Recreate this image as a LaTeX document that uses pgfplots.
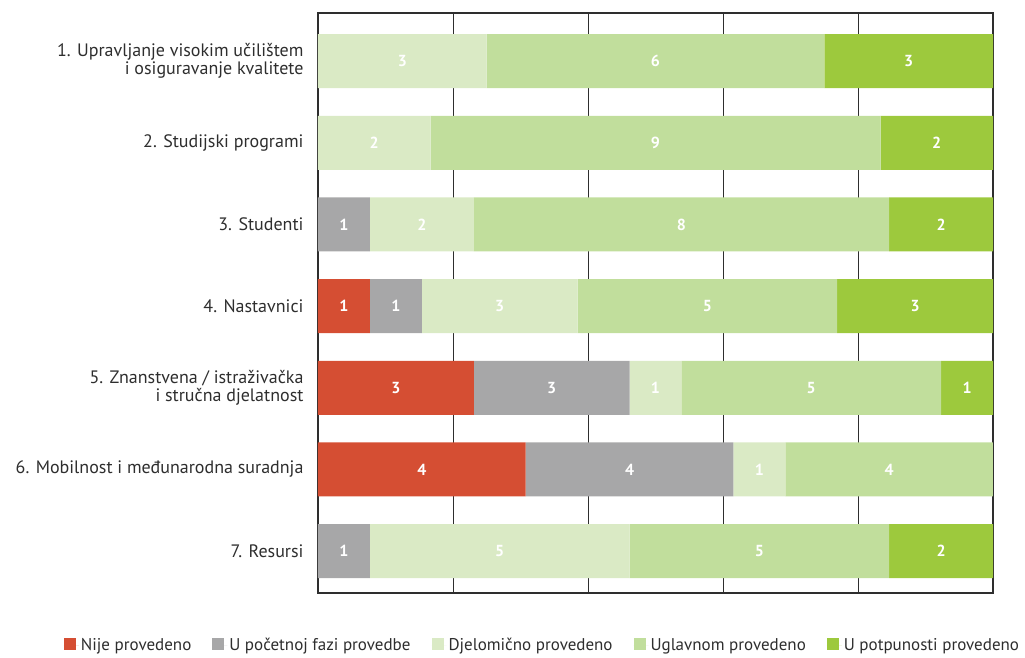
\documentclass[border=0pt]{standalone}
\usepackage{fontspec}
\setmainfont{PT Sans}
\usepackage{pgfplots}
\usepackage{pgfplotstable}
\pgfplotsset{compat=1.18}
\definecolor{cNije}{HTML}{D54E33}
\definecolor{cPoc}{HTML}{A7A7A8}
\definecolor{cDje}{HTML}{DAEAC5}
\definecolor{cUgl}{HTML}{C1DE9C}
\definecolor{cPot}{HTML}{9DC93D}
\definecolor{cTxt}{HTML}{2E2E2E}
% y: 7 = row 1 (top) ... 1 = row 7 (bottom); pct = bar share in %
\pgfplotstableread{
y pct
7 0
6 0
5 0
4 7.692
3 23.077
2 30.769
1 0
}\tNije
\pgfplotstableread{
y pct
7 0
6 0
5 7.692
4 7.692
3 23.077
2 30.769
1 7.692
}\tPoc
\pgfplotstableread{
y pct
7 25
6 16.667
5 15.385
4 23.077
3 7.692
2 7.692
1 38.462
}\tDje
\pgfplotstableread{
y pct
7 50
6 66.667
5 61.538
4 38.462
3 38.462
2 30.769
1 38.462
}\tUgl
\pgfplotstableread{
y pct
7 25
6 16.667
5 15.385
4 23.077
3 7.692
2 0
1 15.385
}\tPot
% printed counts at the middle of each segment
\pgfplotstableread{
xc y lab
12.5 7 3
50 7 6
87.5 7 3
8.333 6 2
50 6 9
91.667 6 2
3.846 5 1
15.385 5 2
53.846 5 8
92.308 5 2
3.846 4 1
11.538 4 1
26.923 4 3
57.692 4 5
88.462 4 3
11.538 3 3
34.615 3 3
50 3 1
73.077 3 5
96.154 3 1
15.385 2 4
46.154 2 4
65.385 2 1
84.615 2 4
3.846 1 1
26.923 1 5
65.385 1 5
92.308 1 2
}\tLab
\begin{document}
\begin{tikzpicture}
\useasboundingbox (-318pt,-64pt) rectangle (707pt,593pt);
\begin{axis}[
  at={(0,0)}, anchor=south west,
  scale only axis, width=675pt, height=580pt,
  xbar stacked, bar width=54pt,
  xmin=0, xmax=100, ymin=0.486, ymax=7.59,
  xtick={0,20,...,100}, xticklabel style={opacity=0},
  xmajorgrids, major grid style={draw=cTxt, line width=0.9pt},
  ytick={1,...,7},
  yticklabels={
    {7. Resursi},
    {6. Mobilnost i međunarodna suradnja},
    {5. Znanstvena / istraživačka\\i stručna djelatnost},
    {4. Nastavnici},
    {3. Studenti},
    {2. Studijski programi},
    {1. Upravljanje visokim učilištem\\i osiguravanje kvalitete}},
  yticklabel style={align=right, text=cTxt, font=\fontsize{18}{18}\selectfont, xshift=-11pt},
  tick style={draw=none}, major tick length=0pt,
  axis line style={draw=cTxt, line width=1.3pt},
  legend columns=5,
  legend style={at={(0.3326,-0.0897)}, anchor=center, draw=none,
     font=\fontsize{17}{18}\selectfont, text=cTxt,
     /tikz/every even column/.append style={column sep=19pt}},
  legend image code/.code={\fill[#1] (0pt,-5pt) rectangle (12pt,7pt);\path (0pt,0pt) -- (15pt,0pt);},
]
\addplot[fill=cNije, draw=none] table[x=pct, y=y] {\tNije};
\addplot[fill=cPoc, draw=none] table[x=pct, y=y] {\tPoc};
\addplot[fill=cDje, draw=none] table[x=pct, y=y] {\tDje};
\addplot[fill=cUgl, draw=none] table[x=pct, y=y] {\tUgl};
\addplot[fill=cPot, draw=none] table[x=pct, y=y] {\tPot};
\legend{Nije provedeno, U početnoj fazi provedbe, Djelomično provedeno, Uglavnom provedeno, U potpunosti provedeno}
\end{axis}
\begin{axis}[
  at={(0,0)}, anchor=south west,
  scale only axis, width=675pt, height=580pt,
  xmin=0, xmax=100, ymin=0.486, ymax=7.59,
  hide axis,
]
\addplot[draw=none, mark=none, nodes near coords, point meta=explicit symbolic,
  every node near coord/.append style={anchor=center, text=white,
     font=\fontsize{16}{16}\selectfont\bfseries}]
  table[x=xc, y=y, meta=lab] {\tLab};
\end{axis}
\end{tikzpicture}
\end{document}
